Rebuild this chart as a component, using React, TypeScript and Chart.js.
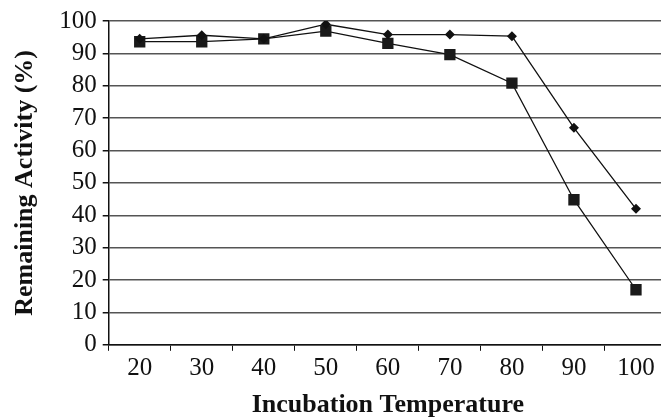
import React, { useEffect, useRef } from "react";
import { Chart, registerables } from "chart.js";

Chart.register(...registerables);

const categories = ["20", "30", "40", "50", "60", "70", "80", "90", "100"];
const diamondSeries = [94.5, 95.6, 94.5, 99, 95.8, 95.8, 95.3, 67, 42];
const squareSeries = [93.6, 93.6, 94.5, 96.9, 93.1, 89.6, 80.8, 44.8, 17];
const yTicks = [0, 10, 20, 30, 40, 50, 60, 70, 80, 90, 100];

export default function App() {
  const ref = useRef<HTMLCanvasElement | null>(null);
  useEffect(() => {
    if (!ref.current) return;
    const font = "'Liberation Serif', 'Times New Roman', Times, serif";
    const chart = new Chart(ref.current, {
      type: "line",
      data: {
        labels: categories,
        datasets: [
          {
            label: "A",
            data: diamondSeries,
            borderColor: "#111",
            backgroundColor: "#111",
            borderWidth: 1.3,
            pointStyle: "rectRot",
            pointRadius: 5,
            pointBorderWidth: 0,
            tension: 0,
          },
          {
            label: "B",
            data: squareSeries,
            borderColor: "#111",
            backgroundColor: "#1a1a1a",
            borderWidth: 1.3,
            pointStyle: "rect",
            pointRadius: 8,
            pointBorderWidth: 0,
            tension: 0,
          },
        ],
      },
      options: {
        animation: false,
        responsive: false,
        devicePixelRatio: 1,
        layout: { padding: { top: 16, right: 0, left: 10, bottom: -3 } },
        plugins: { legend: { display: false }, tooltip: { enabled: false } },
        scales: {
          x: {
            type: "category",
            offset: true,
            grid: {
              offset: true,
              drawOnChartArea: false,
              drawTicks: true,
              tickLength: 6,
              color: "#111",
            },
            border: { color: "#111", width: 1.5 },
            ticks: {
              color: "#111",
              font: { family: font, size: 25 },
              padding: 3,
              maxRotation: 0,
              autoSkip: false,
            },
            title: {
              display: true,
              text: "Incubation Temperature",
              color: "#111",
              font: { family: font, size: 26, weight: "bold" },
              padding: { top: 3, bottom: 0 },
            },
          },
          y: {
            min: 0,
            max: 100,
            afterBuildTicks: (axis: any) => {
              axis.ticks = yTicks.map((v) => ({ value: v }));
            },
            grid: {
              color: "#555",
              lineWidth: 1.5,
              tickLength: 6,
              tickColor: "#111",
            },
            border: { color: "#111", width: 1.5 },
            ticks: {
              color: "#111",
              font: { family: font, size: 25 },
              padding: 6,
              autoSkip: false,
            },
            title: {
              display: true,
              text: "Remaining Activity (%)",
              color: "#111",
              font: { family: font, size: 26, weight: "bold" },
              padding: { top: 0, bottom: 12 },
            },
          },
        },
      },
    });
    return () => chart.destroy();
  }, []);
  return (
    <div style={{ position: "absolute", left: 0, top: 0, width: 661, height: 418, overflow: "hidden", background: "#fff" }}>
      <canvas ref={ref} width={675} height={418} style={{ width: 675, height: 418, display: "block" }} />
    </div>
  );
}
